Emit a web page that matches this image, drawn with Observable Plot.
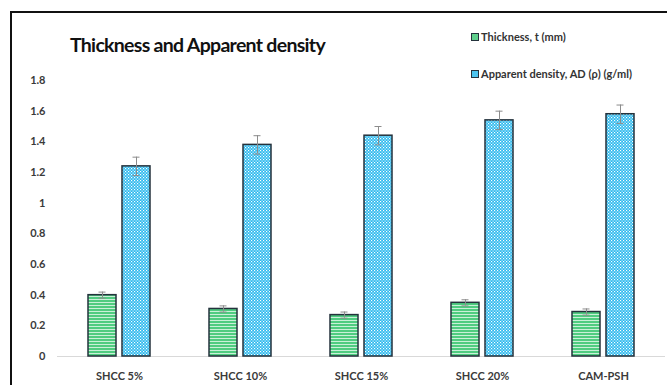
<!DOCTYPE html>
<html>
<head>
<meta charset="utf-8">
<script src="https://cdn.jsdelivr.net/npm/d3@7"></script>
<script src="https://cdn.jsdelivr.net/npm/@observablehq/plot@0.6"></script>
<style>
  html, body { margin: 0; padding: 0; background: #fff; }
  #wrap { position: relative; width: 667px; height: 385px; overflow: hidden; font-family: Lato, "Open Sans", sans-serif; }
  #frame { position: absolute; left: 10px; top: 11px; right: -4px; bottom: -4px; border-top: 2px solid #111; border-left: 2px solid #111; }
  #title { position: absolute; left: 70px; top: 33px; font-size: 19.5px; font-weight: 700; color: #111; white-space: nowrap; letter-spacing: -0.7px; }
  .leg { position: absolute; left: 471px; font-size: 11px; font-weight: 700; color: #333; white-space: nowrap; display: flex; align-items: center; }
  .sw { width: 6px; height: 6px; border: 1px solid #24323c; margin-right: 2px; }
  #plot { position: absolute; left: 0; top: 0; }
</style>
</head>
<body>
<div id="wrap">
  <div id="plot"></div>
  <div id="frame"></div>
  <div id="title">Thickness and Apparent density</div>
  <div class="leg" style="top:30px"><span class="sw" style="background:#5fd08c"></span>Thickness, t (mm)</div>
  <div class="leg" style="top:67px"><span class="sw" style="background:#4cc4ef"></span>Apparent density, AD (ρ) (g/ml)</div>
</div>
<script>
// Mix designs
const categories = ["SHCC 5%", "SHCC 10%", "SHCC 15%", "SHCC 20%", "CAM-PSH"];
// Thickness t (mm) and its error
const thickness = [0.40, 0.31, 0.27, 0.35, 0.29];
const thicknessErr = [0.02, 0.02, 0.02, 0.02, 0.02];
// Apparent density AD (g/ml) and its error
const density = [1.24, 1.38, 1.44, 1.54, 1.58];
const densityErr = [0.06, 0.06, 0.06, 0.06, 0.06];
const yTicks = [0, 0.2, 0.4, 0.6, 0.8, 1, 1.2, 1.4, 1.6, 1.8];

const tRows = categories.map((c, i) => ({cat: c, v: thickness[i], e: thicknessErr[i]}));
const dRows = categories.map((c, i) => ({cat: c, v: density[i], e: densityErr[i]}));

// Hatch patterns for the two series
const defs = () => {
  const d = d3.create("svg:defs");
  const s = d.append("pattern").attr("id", "stripes").attr("patternUnits", "userSpaceOnUse")
    .attr("width", 4).attr("height", 3);
  s.append("rect").attr("width", 4).attr("height", 3).attr("fill", "#4fcc80");
  s.append("rect").attr("y", 2).attr("width", 4).attr("height", 1).attr("fill", "#c9f0d8");
  const c = d.append("pattern").attr("id", "checks").attr("patternUnits", "userSpaceOnUse")
    .attr("width", 3).attr("height", 3);
  c.append("rect").attr("width", 3).attr("height", 3).attr("fill", "#2cb9ee");
  c.append("rect").attr("width", 1.2).attr("height", 1.2).attr("fill", "#ffffff");
  c.append("rect").attr("x", 1.5).attr("y", 1.5).attr("width", 1.2).attr("height", 1.2).attr("fill", "#e6f7fd");
  return d.node();
};

const off = 17;
const errMarks = (rows, dx) => [
  Plot.ruleX(rows, {x: "cat", y1: d => d.v - d.e, y2: d => d.v + d.e, dx, stroke: "#8c8c8c", strokeWidth: 1}),
  Plot.tickY(rows, {x: "cat", y: d => d.v + d.e, dx, stroke: "#8c8c8c", strokeWidth: 1, insetLeft: 10.5, insetRight: 10.5}),
  Plot.tickY(rows, {x: "cat", y: d => d.v - d.e, dx, stroke: "#8c8c8c", strokeWidth: 1, insetLeft: 10.5, insetRight: 10.5})
];

const chart = Plot.plot({
  width: 667,
  height: 385,
  marginLeft: 57,
  marginRight: 2,
  marginTop: 80,
  marginBottom: 29,
  style: {fontFamily: "Lato, 'Open Sans', sans-serif", fontSize: "11px", fontWeight: 700, color: "#3a3a3a", background: "transparent"},
  x: {domain: categories, paddingInner: 0.77, paddingOuter: 0.387, label: null, tickSize: 0, tickPadding: 16},
  y: {domain: [0, 1.8], ticks: yTicks, tickFormat: d => String(+d.toFixed(1)), tickSize: 0, tickPadding: 12, label: null},
  marks: [
    defs,
    Plot.ruleY([0], {stroke: "#d9d9d9", strokeWidth: 1}),
    Plot.barY(tRows, {x: "cat", y: "v", dx: -off, fill: "url(#stripes)", stroke: "#24323c", strokeWidth: 1.5}),
    Plot.barY(dRows, {x: "cat", y: "v", dx: off, fill: "url(#checks)", stroke: "#24323c", strokeWidth: 1.5}),
    ...errMarks(tRows, -off),
    ...errMarks(dRows, off)
  ]
});
document.getElementById("plot").appendChild(chart);
</script>
</body>
</html>
